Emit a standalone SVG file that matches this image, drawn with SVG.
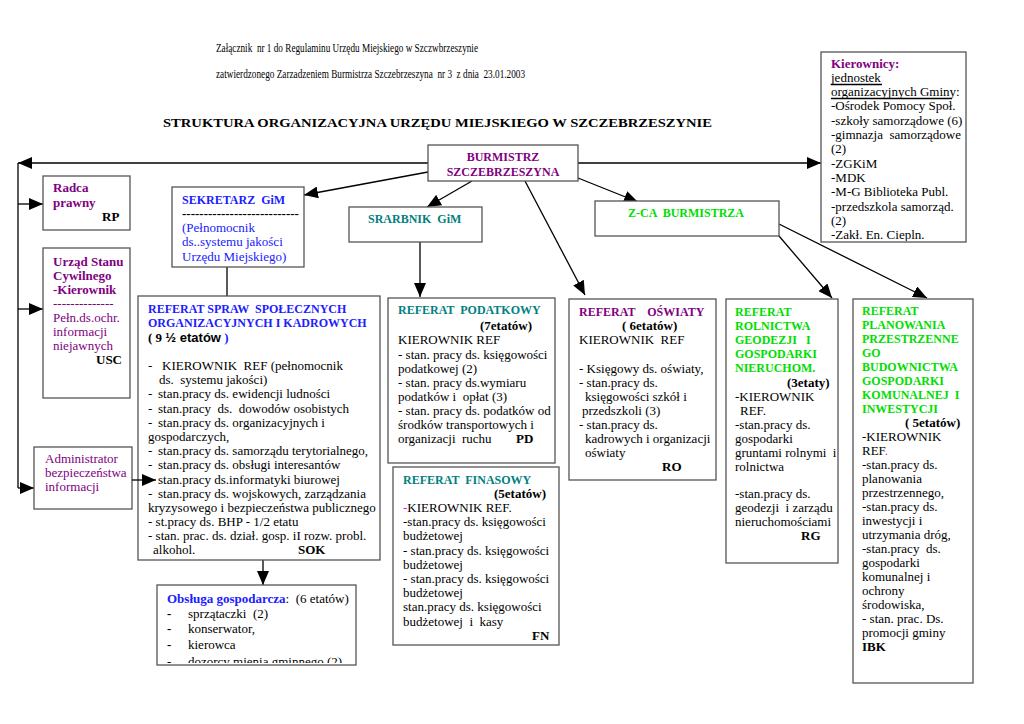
<svg xmlns="http://www.w3.org/2000/svg" width="1024" height="724" viewBox="0 0 1024 724">
<style>
text{font-family:"Liberation Serif","Times New Roman",serif;font-size:13px;fill:#000;white-space:pre}
.h{font-size:12px;font-weight:bold}
.b{font-weight:bold}
.pu{fill:#800080}
.bl{fill:#2020ff}
.te{fill:#008080}
.gr{fill:#00dd00}
.sans{font-family:"Liberation Sans",Arial,sans-serif}
.box{fill:#fff;stroke:#555;stroke-width:1.3}
.ln{stroke:#000;stroke-width:1.3;fill:none}
.ar{stroke:#000;stroke-width:1.3;fill:none;marker-end:url(#a)}
</style>
<defs>
<marker id="a" viewBox="0 0 14 12" refX="14" refY="6" markerWidth="14" markerHeight="12" markerUnits="userSpaceOnUse" orient="auto"><path d="M0,0 L14,6 L0,12 z" fill="#000"/></marker>
<clipPath id="ckier"><rect x="821" y="52" width="145" height="189"/></clipPath>
<clipPath id="cobs"><rect x="157" y="585" width="199" height="78"/></clipPath>
</defs>
<rect width="1024" height="724" fill="#fff"/>

<g id="header">
<text x="216" y="52" font-size="11" textLength="262" lengthAdjust="spacingAndGlyphs">Załącznik  nr 1 do Regulaminu Urzędu Miejskiego w Szczwbrzeszynie</text>
<text x="216" y="78" font-size="11" textLength="309" lengthAdjust="spacingAndGlyphs">zatwierdzonego Zarzadzeniem Burmistrza Szczebrzeszyna  nr 3  z dnia  23.01.2003</text>
<text x="163" y="127" font-size="15" font-weight="bold" textLength="549" lengthAdjust="spacingAndGlyphs">STRUKTURA ORGANIZACYJNA URZĘDU MIEJSKIEGO W SZCZEBRZESZYNIE</text>
</g>

<g id="connectors">
<path class="ar" d="M428,163 H18"/>
<path class="ln" d="M18,163 V488"/>
<path class="ar" d="M18,204 H43"/>
<path class="ar" d="M18,309 H43"/>
<path class="ar" d="M18,488 H34"/>
<path class="ar" d="M578,163 H821"/>
<path class="ar" d="M428,172 L304,195"/>
<path class="ar" d="M472,181 L427,207"/>
<path class="ar" d="M525,181 L585,295"/>
<path class="ar" d="M578,178 L638,202"/>
<path class="ln" d="M227,267 V296"/>
<path class="ar" d="M420,242 V297"/>
<path class="ar" d="M263,560 V585"/>
<path class="ar" d="M779,236 L832,298"/>
<path class="ar" d="M779,224 L927,298"/>
</g>

<g id="burmistrz">
<rect class="box" x="428" y="145" width="150" height="36"/>
<text class="h pu" x="503" y="161" text-anchor="middle">BURMISTRZ</text>
<text class="h pu" x="503" y="176" text-anchor="middle">SZCZEBRZESZYNA</text>
</g>

<g id="kierownicy">
<rect class="box" x="821" y="52" width="145" height="190"/>
<g clip-path="url(#ckier)">
<text class="b pu" x="831" y="68">Kierownicy:</text>
<text x="831" y="82">jednostek</text>
<text x="831" y="96">organizacyjnych Gminy:</text>
<text x="831" y="110">-Ośrodek Pomocy Społ.</text>
<text x="831" y="124.5">-szkoły samorządowe (6)</text>
<text x="831" y="139">-gimnazja  samorządowe</text>
<text x="831" y="153">(2)</text>
<text x="831" y="167.5">-ZGKiM</text>
<text x="831" y="182">-MDK</text>
<text x="831" y="196">-M-G Biblioteka Publ.</text>
<text x="831" y="210.5">-przedszkola samorząd.</text>
<text x="831" y="225">(2)</text>
<text x="831" y="239">-Zakł. En. Ciepln.</text>
</g>
<path class="ln" d="M831,84.5 H882 M831,98.5 H952" stroke-width="1"/>
</g>

<g id="radca">
<rect class="box" x="43" y="176" width="87" height="54"/>
<text class="b pu" x="53" y="192">Radca</text>
<text class="b pu" x="53" y="207">prawny</text>
<text class="b" x="102" y="221">RP</text>
</g>

<g id="usc">
<rect class="box" x="43" y="248" width="87" height="150"/>
<text class="b pu" x="53" y="266">Urząd Stanu</text>
<text class="b pu" x="53" y="280">Cywilnego</text>
<text class="b pu" x="53" y="294">-Kierownik</text>
<text class="pu" x="53" y="308">--------------</text>
<text class="pu" x="53" y="322">Pełn.ds.ochr.</text>
<text class="pu" x="53" y="336">informacji</text>
<text class="pu" x="53" y="350">niejawnych</text>
<text class="b" x="96" y="364">USC</text>
</g>

<g id="administrator">
<rect class="box" x="34" y="447" width="98" height="62"/>
<text class="pu" x="45" y="463">Administrator</text>
<text class="pu" x="45" y="477">bezpieczeństwa</text>
<text class="pu" x="45" y="491">informacji</text>
</g>

<g id="sekretarz">
<rect class="box" x="172" y="187" width="132" height="80"/>
<text class="h bl" x="182" y="204">SEKRETARZ  GiM</text>
<text class="b" x="182" y="218" font-size="12">---------------------------</text>
<text class="bl" x="182" y="232">(Pełnomocnik</text>
<text class="bl" x="182" y="246">ds..systemu jakości</text>
<text class="bl" x="182" y="261">Urzędu Miejskiego)</text>
</g>

<g id="skarbnik">
<rect class="box" x="349" y="207" width="133" height="35"/>
<text class="h te" x="368" y="223">SRARBNIK  GiM</text>
</g>

<g id="zca">
<rect class="box" x="595" y="201" width="184" height="35"/>
<text class="h gr" x="628" y="217">Z-CA  BURMISTRZA</text>
</g>

<g id="referat-spraw">
<rect class="box" x="138" y="296" width="242" height="264"/>
<text class="h bl" x="148" y="313">REFERAT SPRAW  SPOŁECZNYCH</text>
<text class="h bl" x="148" y="327">ORGANIZACYJNYCH I KADROWYCH</text>
<text x="148" y="342"><tspan class="b">( 9 </tspan><tspan class="b sans">½ etatów</tspan><tspan class="b bl"> )</tspan></text>
<text x="148" y="370">-</text><text x="162" y="370">KIEROWNIK  REF (pełnomocnik</text>
<text x="159" y="384">ds.  systemu jakości)</text>
<text x="148" y="398">-</text><text x="158" y="398">stan.pracy ds. ewidencji ludności</text>
<text x="148" y="412.5">-</text><text x="158" y="412.5">stan.pracy  ds.  dowodów osobistych</text>
<text x="148" y="426.5">-</text><text x="158" y="426.5">stan.pracy ds. organizacyjnych i</text>
<text x="148" y="441">gospodarczych,</text>
<text x="148" y="455">-</text><text x="158" y="455">stan.pracy ds. samorządu terytorialnego,</text>
<text x="148" y="469">-</text><text x="158" y="469">stan.pracy ds. obsługi interesantów</text>
<text x="158" y="483.5">stan.pracy ds.informatyki biurowej</text>
<text x="148" y="497.5">-</text><text x="158" y="497.5">stan.pracy ds. wojskowych, zarządzania</text>
<text x="148" y="511.5">kryzysowego i bezpieczeństwa publicznego</text>
<text x="148" y="526">- st.pracy ds. BHP - 1/2 etatu</text>
<text x="148" y="540">- stan. prac. ds. dział. gosp. iI rozw. probl.</text>
<text x="153" y="554">alkohol.</text><text class="b" x="298" y="554">SOK</text>
</g>
<path class="ar" d="M132,480 H156"/>

<g id="obsluga">
<rect class="box" x="157" y="585" width="199" height="80"/>
<g clip-path="url(#cobs)">
<text x="167" y="603"><tspan class="b bl">Obsługa gospodarcza</tspan>:  (6 etatów)</text>
<text class="b" x="167" y="618">-</text><text x="188" y="618">sprzątaczki  (2)</text>
<text class="b" x="167" y="633">-</text><text x="188" y="633">konserwator,</text>
<text class="b" x="167" y="649">-</text><text x="188" y="649">kierowca</text>
<text class="b" x="167" y="666">-</text><text x="188" y="666">dozorcy mienia gminnego (2)</text>
</g>
</g>

<g id="podatkowy">
<rect class="box" x="388" y="298" width="167" height="165"/>
<text class="h te" x="398" y="314">REFERAT  PODATKOWY</text>
<text class="b" x="480" y="330">(7etatów)</text>
<text x="398" y="344">KIEROWNIK REF</text>
<text x="398" y="358.5">- stan. pracy ds. księgowości</text>
<text x="398" y="372.5">podatkowej (2)</text>
<text x="398" y="387">- stan. pracy ds.wymiaru</text>
<text x="398" y="401">podatków i  opłat (3)</text>
<text x="398" y="415">- stan. pracy ds. podatków od</text>
<text x="398" y="429">środków transportowych i</text>
<text x="398" y="443">organizacji  ruchu</text><text class="b" x="516" y="443">PD</text>
</g>

<g id="finansowy">
<rect class="box" x="393" y="467" width="166" height="178"/>
<text class="h te" x="403" y="484">REFERAT  FINASOWY</text>
<text class="b" x="494" y="498">(5etatów)</text>
<text x="403" y="512"><tspan fill="#ff00ff">-</tspan>KIEROWNIK REF.</text>
<text x="403" y="526">-stan.pracy ds. księgowości</text>
<text x="403" y="540">budżetowej</text>
<text x="403" y="554.5">- stan.pracy ds. księgowości</text>
<text x="403" y="568.5">budżetowej</text>
<text x="403" y="583">- stan.pracy ds. księgowości</text>
<text x="403" y="597">budżetowej</text>
<text x="403" y="611">stan.pracy ds. księgowości</text>
<text x="403" y="625.5">budżetowej  i  kasy</text>
<text class="b" x="532" y="640">FN</text>
</g>

<g id="oswiaty">
<rect class="box" x="569" y="299" width="147" height="181"/>
<text class="h pu" x="579" y="316">REFERAT    OŚWIATY</text>
<text class="b" x="622" y="330">( 6etatów)</text>
<text x="579" y="344">KIEROWNIK  REF</text>
<text x="579" y="373">- Księgowy ds. oświaty,</text>
<text x="579" y="387">- stan.pracy ds.</text>
<text x="585" y="401">księgowości szkół i</text>
<text x="582" y="415">przedszkoli (3)</text>
<text x="579" y="429">- stan.pracy ds.</text>
<text x="585" y="443">kadrowych i organizacji</text>
<text x="585" y="457">oświaty</text>
<text class="b" x="662" y="471">RO</text>
</g>

<g id="rolnictwa">
<rect class="box" x="726" y="299" width="112" height="264"/>
<text class="h gr" x="735" y="316">REFERAT</text>
<text class="h gr" x="735" y="330">ROLNICTWA</text>
<text class="h gr" x="735" y="344">GEODEZJI   I</text>
<text class="h gr" x="735" y="358">GOSPODARKI</text>
<text class="h gr" x="735" y="372">NIERUCHOM.</text>
<text class="b" x="787" y="386.5">(3etaty)</text>
<text x="735" y="400.5">-KIEROWNIK</text>
<text x="740" y="414.5">REF.</text>
<text x="735" y="428.5">-stan.pracy ds.</text>
<text x="735" y="442.5">gospodarki</text>
<text x="735" y="456.5">gruntami rolnymi  i</text>
<text x="735" y="470.5">rolnictwa</text>
<text x="735" y="497.5">-stan.pracy ds.</text>
<text x="735" y="511.5">geodezji  i zarządu</text>
<text x="735" y="525.5">nieruchomościami</text>
<text class="b" x="801" y="540">RG</text>
</g>

<g id="planowania">
<rect class="box" x="853" y="299" width="120" height="384"/>
<text class="h gr" x="862" y="315">REFERAT</text>
<text class="h gr" x="862" y="329">PLANOWANIA</text>
<text class="h gr" x="862" y="343">PRZESTRZENNE</text>
<text class="h gr" x="862" y="357">GO</text>
<text class="h gr" x="862" y="371">BUDOWNICTWA</text>
<text class="h gr" x="862" y="385">GOSPODARKI</text>
<text class="h gr" x="862" y="399">KOMUNALNEJ  I</text>
<text class="h gr" x="862" y="413">INWESTYCJI</text>
<text class="b" x="905" y="427">( 5etatów)</text>
<text x="862" y="441">-KIEROWNIK</text>
<text x="862" y="455">REF<tspan fill="#ff00ff">.</tspan></text>
<text x="862" y="469">-stan.pracy ds.</text>
<text x="862" y="483">planowania</text>
<text x="862" y="497">przestrzennego,</text>
<text x="862" y="511">-stan.pracy ds.</text>
<text x="862" y="525">inwestycji i</text>
<text x="862" y="539">utrzymania dróg,</text>
<text x="862" y="553">-stan.pracy  ds.</text>
<text x="862" y="567">gospodarki</text>
<text x="862" y="581">komunalnej i</text>
<text x="862" y="595">ochrony</text>
<text x="862" y="609">środowiska,</text>
<text x="862" y="623">- stan. prac. Ds.</text>
<text x="862" y="637">promocji gminy</text>
<text class="b" x="862" y="651">IBK</text>
</g>
</svg>
